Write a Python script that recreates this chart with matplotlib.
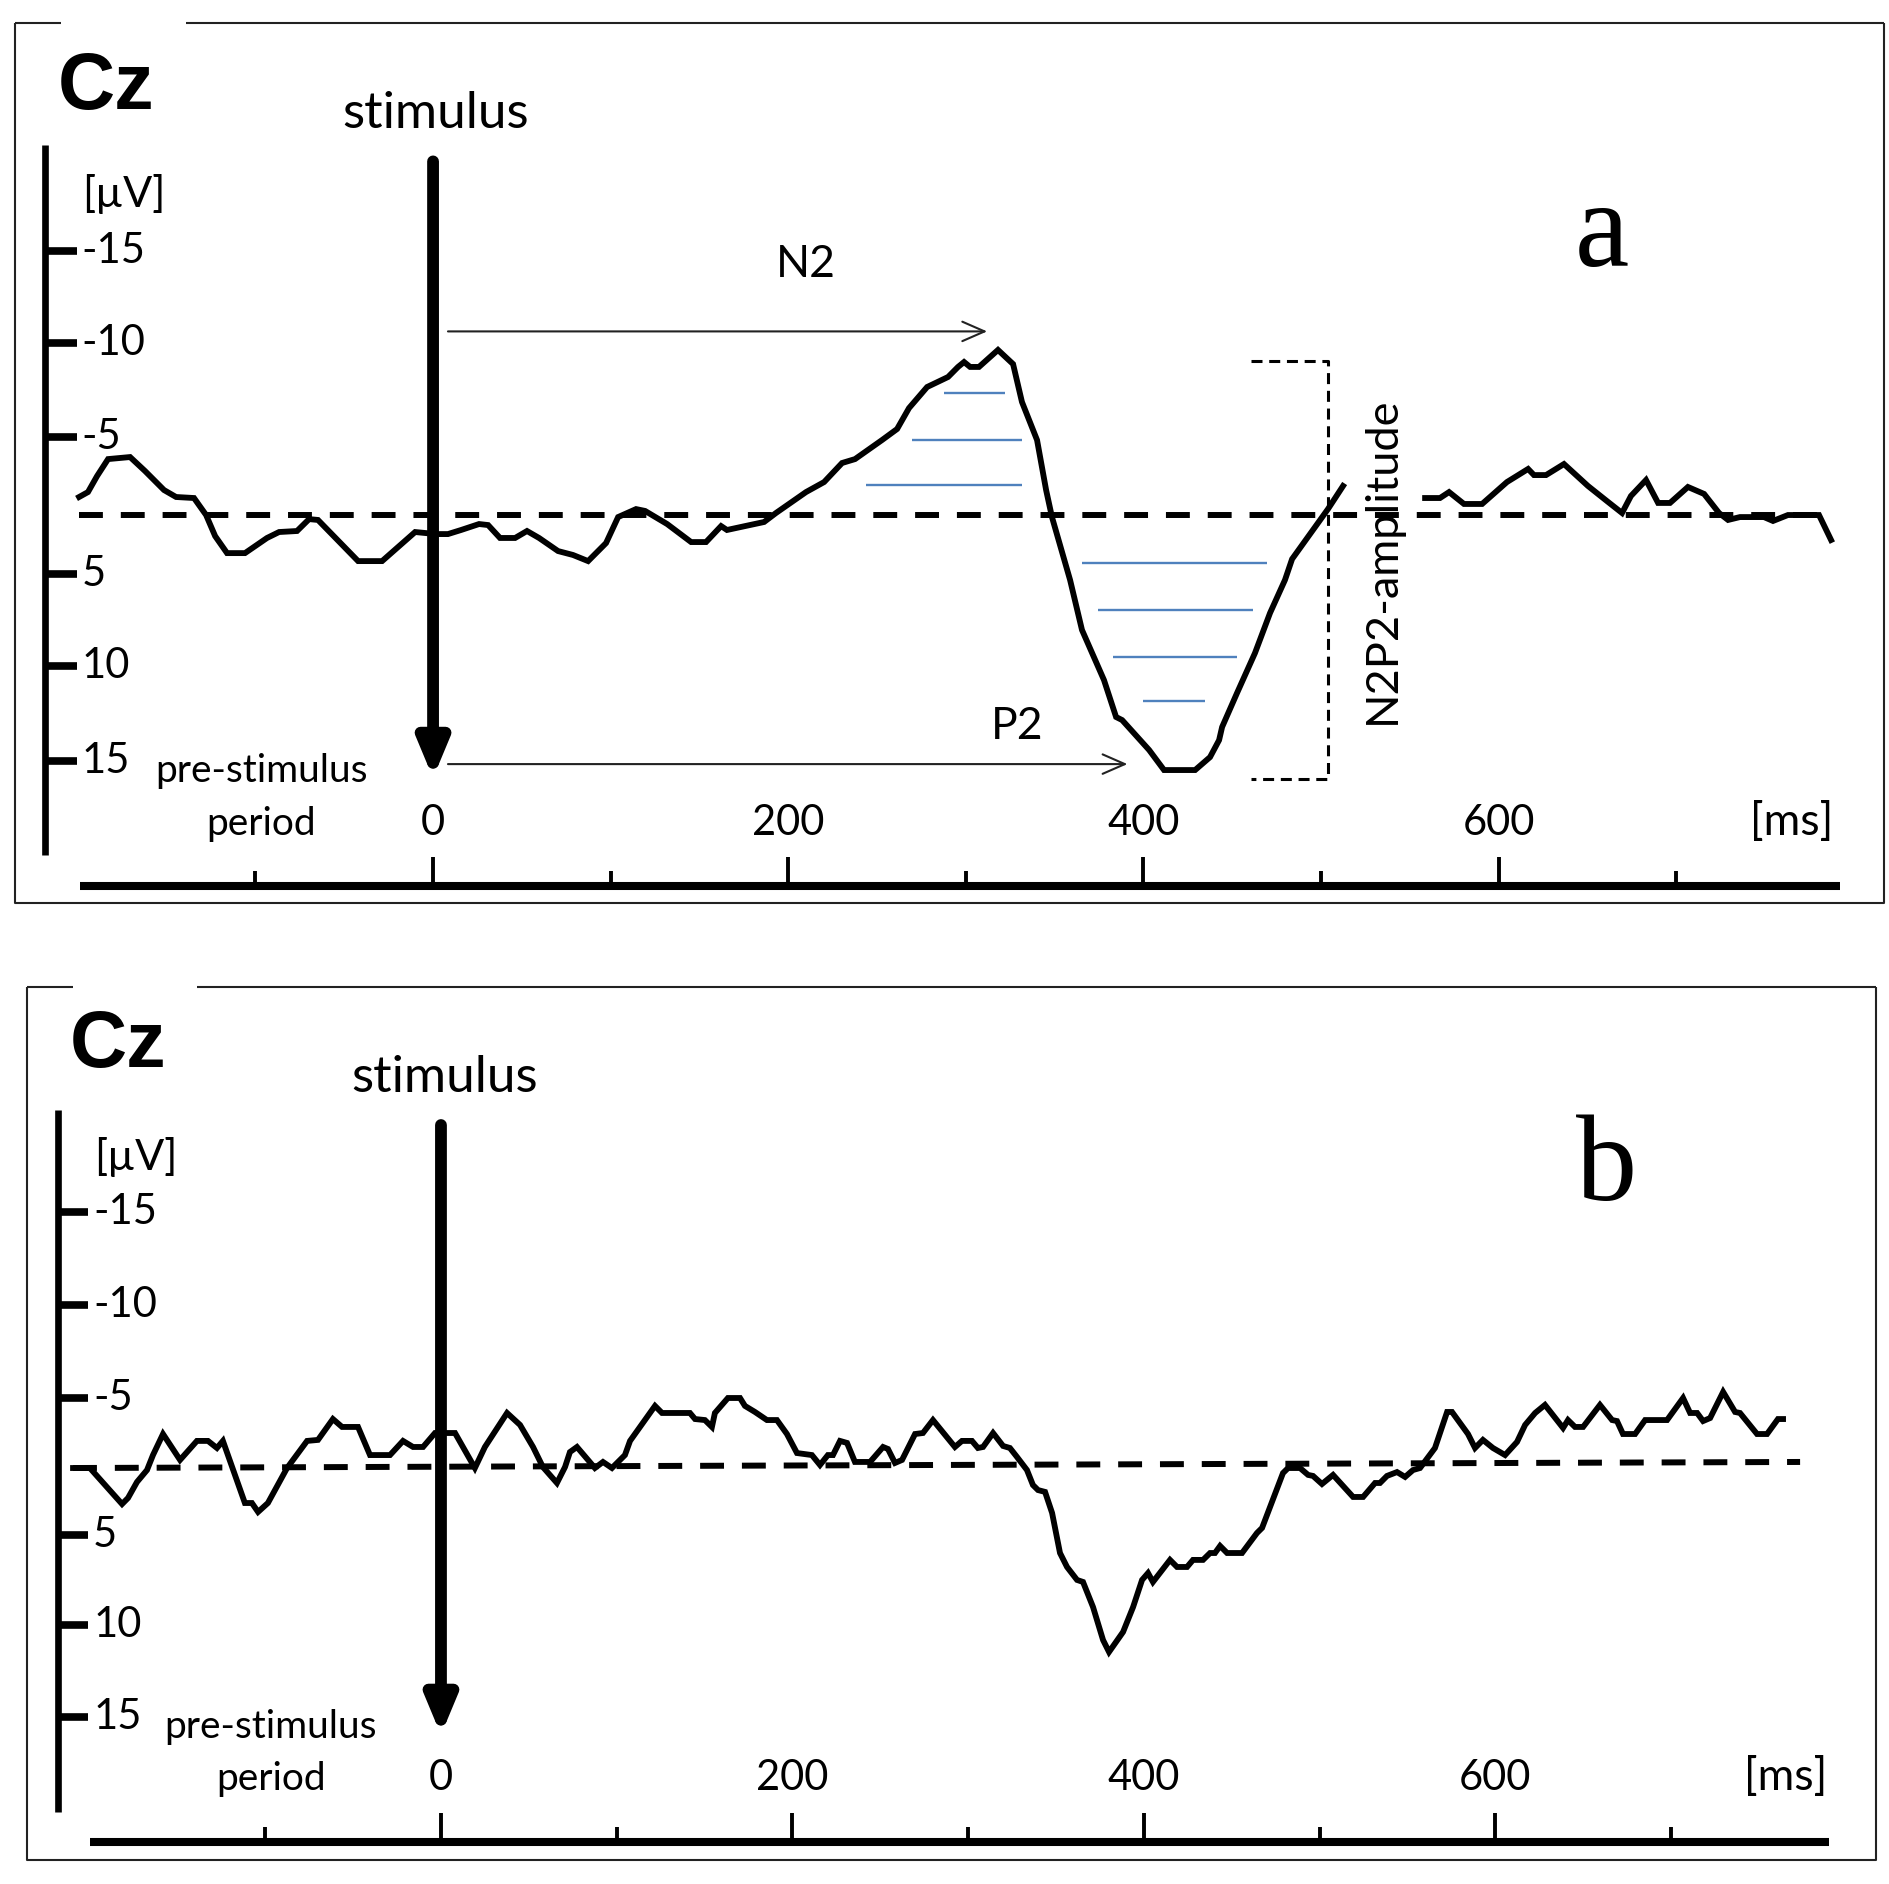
import matplotlib.pyplot as plt

# ---- data (time in ms, amplitude in uV, negative plotted upwards) ----
# panel a: curve before and after the "N2P2-amplitude" label
a1_t = [-199.3, -194.3, -189.2, -183.0, -170.6, -162.2, -151.5, -144.7, -134.6, -127.8,
        -122.7, -116.0, -105.9, -93.5, -86.7, -76.6, -69.8, -64.8, -42.2, -28.7,
        -10.1, 1.7, 8.4, 15.8, 25.9, 31.0, 37.7, 46.2, 52.9, 59.7,
        70.4, 78.8, 87.3, 97.4, 104.2, 114.3, 119.4, 131.8, 145.3, 153.7,
        162.2, 165.5, 175.7, 186.4, 193.1, 210.0, 220.2, 230.3, 237.6, 252.8,
        261.3, 268.0, 278.2, 290.0, 295.6, 299.0, 302.4, 307.4, 318.1, 326.6,
        331.6, 340.1, 345.2, 348.5, 358.7, 365.4, 377.8, 384.6, 388.0, 403.2,
        411.6, 429.1, 437.5, 442.6, 444.3, 452.7, 462.8, 471.3, 479.7, 483.7,
        503.9, 512.4]
a1_v = [-1.06, -1.35, -2.29, -3.29, -3.41, -2.59, -1.47, -1.06, -1.0, 0.0,
        1.24, 2.24, 2.24, 1.35, 1.0, 0.94, 0.24, 0.29, 2.71, 2.71,
        1.0, 1.12, 1.12, 0.88, 0.53, 0.59, 1.35, 1.35, 0.94, 1.35,
        2.12, 2.35, 2.71, 1.65, 0.12, -0.35, -0.24, 0.53, 1.59, 1.59,
        0.65, 0.88, 0.65, 0.41, -0.12, -1.35, -1.94, -3.06, -3.29, -4.41,
        -5.06, -6.29, -7.53, -8.12, -8.71, -9.0, -8.71, -8.71, -9.71, -8.88,
        -6.65, -4.41, -1.47, 0.12, 3.82, 6.76, 9.71, 11.88, 12.06, 13.82,
        15.0, 15.0, 14.24, 13.24, 12.47, 10.47, 8.12, 5.76, 3.82, 2.59,
        -0.35, -1.71]
a2_t = [558.6, 567.0, 572.1, 580.5, 590.7, 604.7, 616.6, 619.9, 626.7, 636.8,
        650.3, 661.0, 669.5, 674.5, 683.0, 689.8, 696.5, 706.6, 715.7, 724.1,
        729.2, 735.9, 749.4, 754.5, 762.9, 780.4, 787.2]
a2_v = [-1.0, -1.0, -1.35, -0.65, -0.65, -1.94, -2.71, -2.35, -2.35, -3.0,
        -1.71, -0.82, -0.12, -1.12, -2.06, -0.71, -0.71, -1.65, -1.24, -0.12,
        0.29, 0.12, 0.12, 0.35, 0.0, 0.0, 1.47]

# panel b curve
b_t = [-209.4, -199.8, -181.5, -178.1, -173.0, -167.3, -163.9, -158.2, -148.5, -138.9,
       -132.6, -127.5, -124.1, -111.6, -107.6, -104.1, -98.5, -87.6, -76.2, -70.0,
       -61.5, -56.3, -47.2, -40.4, -29.0, -21.6, -15.9, -10.2, -3.4, 8.0,
       19.3, 25.0, 37.6, 45.0, 52.4, 58.0, 66.0, 70.6, 73.4, 77.4,
       87.6, 92.2, 97.3, 104.7, 107.6, 121.8, 125.8, 141.7, 144.6, 150.2,
       154.2, 155.9, 163.3, 170.2, 173.0, 178.7, 185.5, 191.2, 196.9, 202.6,
       211.1, 215.7, 220.2, 223.1, 227.1, 231.1, 235.6, 244.2, 251.6, 254.4,
       258.4, 262.4, 269.8, 274.3, 280.0, 292.5, 296.5, 302.2, 305.6, 308.5,
       314.2, 319.9, 323.8, 327.8, 333.5, 336.9, 339.8, 343.8, 347.8, 352.3,
       356.3, 362.0, 365.4, 371.1, 376.8, 380.2, 388.2, 393.9, 399.0, 402.4,
       405.2, 414.9, 418.9, 424.6, 428.0, 433.7, 437.7, 440.5, 443.4, 447.4,
       455.9, 464.4, 467.3, 479.2, 482.1, 488.9, 493.5, 496.3, 501.4, 507.7,
       519.1, 524.8, 531.6, 534.4, 538.4, 544.1, 548.7, 553.2, 557.2, 565.7,
       572.6, 575.4, 584.5, 588.5, 593.0, 598.7, 605.6, 612.4, 617.0, 622.7,
       628.3, 638.6, 641.4, 645.4, 650.0, 659.6, 666.5, 669.3, 672.7, 679.6,
       685.3, 697.8, 706.9, 710.9, 714.9, 718.3, 722.3, 729.7, 736.5, 739.3,
       749.0, 754.7, 760.9, 763.8]
b_v = [0.18, 0.18, 2.32, 1.96, 1.01, 0.30, -0.59, -1.84, -0.30, -1.43,
       -1.43, -1.01, -1.43, 2.26, 2.26, 2.79, 2.26, 0.18, -1.43, -1.49,
       -2.73, -2.26, -2.26, -0.59, -0.59, -1.43, -1.07, -1.07, -1.90, -1.90,
       0.18, -1.07, -3.09, -2.38, -1.07, 0.12, 1.07, 0.12, -0.77, -1.07,
       0.18, -0.18, 0.18, -0.59, -1.43, -3.51, -3.09, -3.09, -2.73, -2.67,
       -2.26, -3.09, -3.98, -3.98, -3.51, -3.15, -2.67, -2.67, -1.84, -0.71,
       -0.59, 0.0, -0.59, -0.59, -1.43, -1.31, -0.18, -0.18, -1.07, -0.95,
       -0.12, -0.30, -1.84, -1.90, -2.67, -1.07, -1.43, -1.43, -1.01, -1.07,
       -1.90, -1.13, -1.01, -0.48, 0.30, 1.19, 1.49, 1.60, 2.85, 5.23,
       6.06, 6.83, 6.95, 8.44, 10.40, 11.11, 9.92, 8.44, 6.83, 6.42,
       6.95, 5.64, 6.06, 6.06, 5.64, 5.64, 5.23, 5.23, 4.81, 5.23,
       5.23, 4.04, 3.74, 0.48, 0.18, 0.18, 0.59, 0.65, 1.13, 0.59,
       1.90, 1.90, 1.07, 1.07, 0.65, 0.42, 0.71, 0.30, 0.18, -1.01,
       -3.15, -3.15, -1.84, -1.01, -1.49, -1.01, -0.59, -1.37, -2.38, -3.09,
       -3.57, -2.20, -2.67, -2.26, -2.26, -3.57, -2.67, -2.61, -1.84, -1.84,
       -2.67, -2.67, -3.98, -3.09, -3.09, -2.61, -2.79, -4.34, -3.15, -3.09,
       -1.84, -1.84, -2.73, -2.73]

# axis rulers
ytick_labels = ["-15", "-10", "-5", "5", "10", "15"]
ytick_pos_a = [-15.53, -10.12, -4.59, 3.47, 8.88, 14.47]
ytick_pos_b = [-15.03, -9.51, -3.98, 4.16, 9.51, 14.97]
xtick_major = [0, 200, 400, 600]
xtick_minor = [-100, 100, 300, 500, 700]

# panel a annotations
n2_arrow_t = [8.4, 312.0]
n2_arrow_v = -10.8
p2_arrow_t = [8.4, 391.0]
p2_arrow_v = 14.65
n2_hatch_t0 = [287.7, 269.7, 243.8]
n2_hatch_t1 = [321.9, 331.8, 331.8]
n2_hatch_v = [-7.18, -4.41, -1.76]
p2_hatch_t0 = [365.4, 374.4, 382.9, 399.8]
p2_hatch_t1 = [469.6, 461.7, 452.7, 434.7]
p2_hatch_v = [2.82, 5.59, 8.35, 10.94]
bracket_t = [460.6, 503.9]
bracket_v = [-9.06, 15.5]

SANS = "Lato"
W, H = 1890, 1884
fig = plt.figure(figsize=(W / 100, H / 100), dpi=100)


def make_axes(rect, xlim, ylim):
    left, top, right, bottom = rect
    ax = fig.add_axes([left / W, 1 - bottom / H, (right - left) / W, (bottom - top) / H])
    ax.set_xlim(*xlim)
    ax.set_ylim(*ylim)
    ax.axis("off")
    return ax


def draw_panel(ax, lay, ytick_pos, curves, base_v, letter):
    # frame with a gap in the top edge behind "Cz"
    x0, x1 = ax.get_xlim()
    top = ax.get_xaxis_transform()
    fk = dict(color="#222222", lw=1.5, clip_on=False, solid_capstyle="butt")
    ax.plot([x0, lay["gap"][0]], [1, 1], transform=top, **fk)
    ax.plot([lay["gap"][1], x1], [1, 1], transform=top, **fk)
    ax.plot([0, 0, 1, 1], [1, 0, 0, 1], transform=ax.transAxes, **fk)

    # y ruler
    ax.plot([lay["yaxis_t"]] * 2, lay["yaxis_v"], color="k", lw=4.8, solid_capstyle="butt")
    for pos, lab in zip(ytick_pos, ytick_labels):
        ax.plot(lay["ystub_t"], [pos, pos], color="k", lw=5.5, solid_capstyle="butt")
        ax.text(lay["ylabel_t"], pos, lab, fontsize=30, family=SANS, ha="left", va="center")
    ax.text(lay["uv"][0], lay["uv"][1], "[\u00b5V]", fontsize=31, family=SANS,
            ha="center", va="baseline")

    # x ruler
    xv = lay["xaxis_v"]
    ax.plot(lay["xaxis_t"], [xv, xv], color="k", lw=5.8, solid_capstyle="butt")
    for t in xtick_major:
        ax.plot([t, t], [xv, lay["major_top"]], color="k", lw=2.8, solid_capstyle="butt")
        ax.text(t, lay["xlabel_v"], str(t), fontsize=30, family=SANS, ha="center", va="baseline")
    for t in xtick_minor:
        ax.plot([t, t], [xv, lay["minor_top"]], color="k", lw=2.8, solid_capstyle="butt")
    ax.text(lay["ms_t"], lay["xlabel_v"], "[ms]", fontsize=32, family=SANS, ha="center", va="baseline")
    ax.text(lay["pre_t"], lay["pre_v"], "pre-stimulus", fontsize=28, family=SANS, ha="center", va="baseline")
    ax.text(lay["pre_t"], lay["xlabel_v"], "period", fontsize=28, family=SANS, ha="center", va="baseline")

    # baseline
    ax.plot(lay["base_t"], base_v, color="k", lw=4.3, dashes=(4.0, 3.0))

    # ERP curve(s)
    for t, v in curves:
        ax.plot(t, v, color="k", lw=4.2, solid_joinstyle="miter")

    # stimulus arrow
    ax.annotate("", xy=(0, lay["stim_tip"]), xytext=(0, lay["stim_top"]),
                arrowprops=dict(arrowstyle="-|>,head_length=1.2,head_width=0.5",
                                lw=8.5, color="k", shrinkA=0, shrinkB=0, mutation_scale=18))
    ax.text(lay["stim_text"][0], lay["stim_text"][1], "stimulus", fontsize=37, family=SANS,
            ha="center", va="baseline")
    ax.text(lay["cz"][0], lay["cz"][1], "Cz", fontsize=57, family="Liberation Sans",
            weight="bold", ha="center", va="baseline")
    ax.text(lay["letter"][0], lay["letter"][1], letter, fontsize=88, family="Liberation Serif",
            ha="center", va="baseline")


lay_a = dict(gap=(-209.5, -139.1), yaxis_t=-218.5, yaxis_v=(-21.76, 20.0),
             ystub_t=(-218.5, -200.5), ylabel_t=-198.0, uv=(-174.0, -18.1),
             xaxis_v=21.82, xaxis_t=(-199.0, 792.0), major_top=20.12, minor_top=20.94,
             xlabel_v=18.82, ms_t=765.2, pre_t=-96.8, pre_v=15.7,
             base_t=(-199.3, 780.4), stim_top=-20.8, stim_tip=15.47,
             stim_text=(1.7, -22.76), cz=(-184.1, -23.9), letter=(658.2, -14.65))
lay_b = dict(gap=(-209.4, -138.9), yaxis_t=-218.0, yaxis_v=(-21.1, 20.6),
             ystub_t=(-218.0, -200.9), ylabel_t=-198.0, uv=(-173.6, -17.5),
             xaxis_v=22.40, xaxis_t=(-200.0, 790.0), major_top=20.68, minor_top=21.51,
             xlabel_v=19.31, ms_t=765.5, pre_t=-96.8, pre_v=16.22,
             base_t=(-209.4, 773.5), stim_top=-20.2, stim_tip=16.04,
             stim_text=(2.3, -22.16), cz=(-183.8, -23.65), letter=(663.6, -15.75))

ax_a = make_axes((15, 23, 1884, 903), (-235.4, 817.0), (22.82, -28.94))
draw_panel(ax_a, lay_a, ytick_pos_a, [(a1_t, a1_v), (a2_t, a2_v)], [0, 0], "a")

# N2 / P2 latency arrows and labels
arr = dict(arrowstyle="->,head_length=1.6,head_width=0.7", lw=1.5, color="#222222",
           shrinkA=0, shrinkB=0, mutation_scale=10)
ax_a.annotate("", xy=(n2_arrow_t[1], n2_arrow_v), xytext=(n2_arrow_t[0], n2_arrow_v), arrowprops=arr)
ax_a.annotate("", xy=(p2_arrow_t[1], p2_arrow_v), xytext=(p2_arrow_t[0], p2_arrow_v), arrowprops=arr)
ax_a.text(210, -14.0, "N2", fontsize=32, family=SANS, ha="center", va="baseline")
ax_a.text(329, 13.2, "P2", fontsize=32, family=SANS, ha="center", va="baseline")

# area hatching
ax_a.hlines(n2_hatch_v, n2_hatch_t0, n2_hatch_t1, color="#4f81bd", lw=1.7)
ax_a.hlines(p2_hatch_v, p2_hatch_t0, p2_hatch_t1, color="#4f81bd", lw=1.7)

# N2P2 amplitude bracket
ax_a.plot([bracket_t[0], bracket_t[1], bracket_t[1], bracket_t[0]],
          [bracket_v[0], bracket_v[0], bracket_v[1], bracket_v[1]],
          color="k", lw=2.2, dashes=(3.6, 2.2))
ax_a.text(534.3, 2.65, "N2P2-amplitude", fontsize=32.5, family=SANS, rotation=90,
          ha="center", va="center")

ax_b = make_axes((27, 987, 1876, 1860), (-235.6, 816.7), (23.47, -28.40))
draw_panel(ax_b, lay_b, ytick_pos_b, [(b_t, b_v)], [0.18, -0.18], "b")

fig.savefig("out.png", dpi=100, facecolor="white")
